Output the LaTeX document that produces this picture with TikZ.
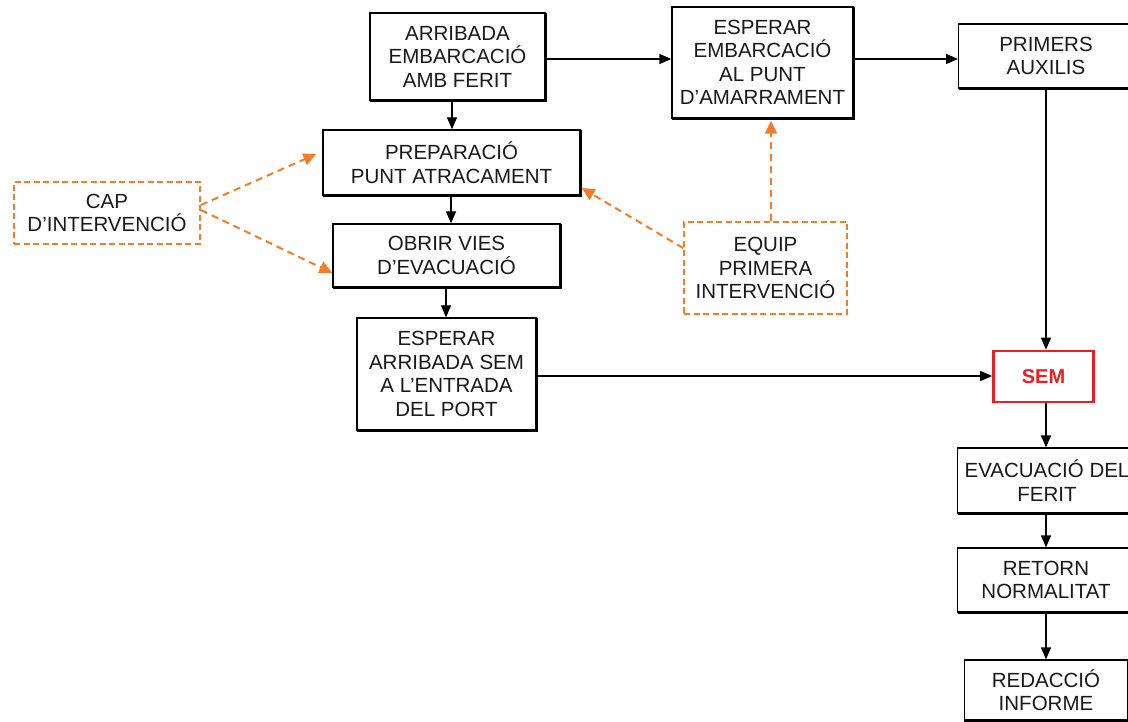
\documentclass[tikz,border=0pt]{standalone}
\usepackage{fontspec}
\setmainfont{Liberation Sans}
\usetikzlibrary{arrows.meta,calc}
\definecolor{orng}{RGB}{245,125,40}
\definecolor{semred}{RGB}{235,30,35}
\tikzset{
  box/.style={draw, line width=1.3pt, inner sep=0pt, align=center,
    font=\fontsize{20.5}{23.5}\selectfont, text=black!90,
    append after command={\pgfextra{\draw[line width=2.4pt]
      ([xshift=0.6pt]\tikzlastnode.south west) -- (\tikzlastnode.south east) -- ([yshift=-0.6pt]\tikzlastnode.north east);}}},
  boxtext/.style={font=\fontsize{20.5}{23.5}\selectfont, text=black!90, align=center},
  dbox/.style={draw=orng, dashed, dash pattern=on 6pt off 3.5pt, line width=1.8pt, inner sep=0pt, align=center,
    font=\fontsize{20.5}{23.5}\selectfont, text=black!90},
  arr/.style={line width=1.3pt, -{Triangle[length=12pt,width=10pt]}},
  darr/.style={draw=orng, line width=2pt, dash pattern=on 7pt off 5pt, -{Triangle[length=13pt,width=12pt]}, orng}
}
\begin{document}
\begin{tikzpicture}[x=1pt,y=-1pt]
\useasboundingbox[fill=white] (0,0) rectangle (1128,722);
\node[box, minimum width=175pt, minimum height=87pt] (arr1) at (457.5,56.5) {ARRIBADA\\EMBARCACIÓ\\AMB FERIT};
\node[box, minimum width=181pt, minimum height=111pt] (esp) at (762.5,62.5) {ESPERAR\\EMBARCACIÓ\\AL PUNT\\D’AMARRAMENT};
\node[box, minimum width=220pt, minimum height=64pt, anchor=west] (prim) at (958,56) {};
\node[boxtext] (primt) at (1046,56) {PRIMERS\\AUXILIS};
\node[box, minimum width=257pt, minimum height=65pt] (prep) at (451.5,162.5) {PREPARACIÓ\\PUNT ATRACAMENT};
\node[dbox, minimum width=186pt, minimum height=62pt] (cap) at (107,213) {CAP\\D’INTERVENCIÓ};
\node[box, minimum width=227pt, minimum height=63pt] (obrir) at (446.5,255.5) {OBRIR VIES\\D’EVACUACIÓ};
\node[dbox, minimum width=163pt, minimum height=92pt] (equip) at (765.5,268) {EQUIP\\PRIMERA\\INTERVENCIÓ};
\node[box, minimum width=179pt, minimum height=112pt] (espsem) at (446.5,374) {ESPERAR\\ARRIBADA SEM\\A L’ENTRADA\\DEL PORT};
\node[draw=semred, line width=2.6pt, minimum width=100pt, minimum height=51pt, inner sep=0pt,
  font=\fontsize{20}{22}\selectfont\bfseries, text=semred] (sem) at (1043.5,376.5) {SEM};
\node[box, minimum width=220pt, minimum height=65pt, anchor=west] (evac) at (957,480.5) {};
\node[boxtext] (evact) at (1047,480.5) {EVACUACIÓ DEL\\FERIT};
\node[box, minimum width=220pt, minimum height=64pt, anchor=west] (ret) at (957,580) {};
\node[boxtext] (rett) at (1046,580) {RETORN\\NORMALITAT};
\node[box, minimum width=163pt, minimum height=60pt] (red) at (1046,690) {REDACCIÓ\\INFORME};

\draw[arr] (arr1.south -| 452,0) -- (prep.north -| 452,0);
\draw[arr] (arr1.east |- 0,59) -- (esp.west |- 0,59);
\draw[arr] (esp.east |- 0,59) -- (prim.west |- 0,59);
\draw[arr] (prep.south -| 451,0) -- (obrir.north -| 451,0);
\draw[arr] (obrir.south -| 446,0) -- (espsem.north -| 446,0);
\draw[arr] (espsem.east |- 0,376) -- (sem.west |- 0,376);
\draw[arr] (prim.south -| 1046,0) -- (sem.north -| 1046,0);
\draw[arr] (sem.south -| 1046,0) -- (evac.north -| 1046,0);
\draw[arr] (evac.south -| 1046,0) -- (ret.north -| 1046,0);
\draw[arr] (ret.south -| 1046,0) -- (red.north -| 1046,0);

\draw[darr] (cap.east |- 0,205) -- ($(prep.west |- 0,154)+(-6,0)$);
\draw[darr] (cap.east |- 0,210) -- (obrir.west |- 0,273);
\draw[darr] (equip.west |- 0,248) -- ($(prep.east |- 0,188)+(1,0)$);
\draw[darr] (equip.north -| 771,0) -- ($(esp.south -| 771,0)+(0,2)$);
\end{tikzpicture}
\end{document}
